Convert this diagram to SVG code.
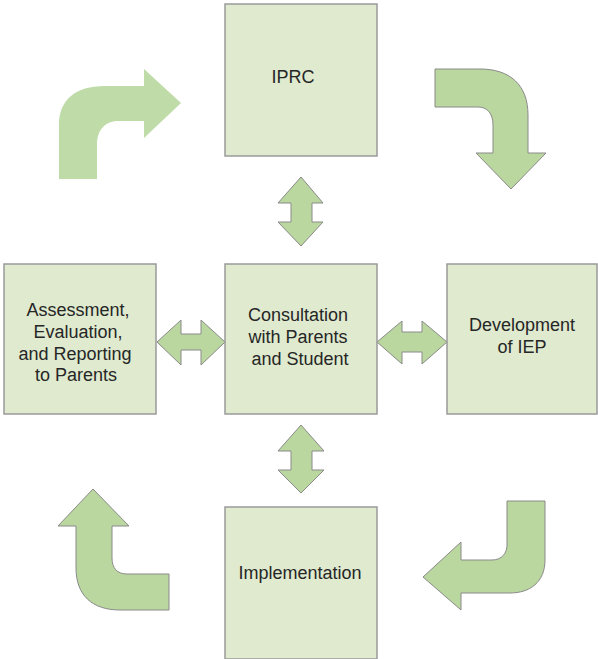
<svg xmlns="http://www.w3.org/2000/svg" width="598" height="659" viewBox="0 0 598 659">
<style>
.box{fill:#dfeacf;stroke:#9a9a9a;stroke-width:1.5}
.arr{fill:#bad79f;stroke:#8a8a8a;stroke-width:1}
.arr2{fill:#bfdca8;stroke:none}
text{font-family:"Liberation Sans",Arial,sans-serif;font-size:18px;fill:#262626;text-anchor:middle}
</style>
<rect width="598" height="659" fill="#ffffff"/>
<g id="connectors">
<path class="arr2" d="M59,179 L59,125 C59,100 75,86 105,86 L144,86 L144,69 L181,103 L144,138 L144,121 L118,121 C105,121 97,130 97,145 L97,179 Z"/>
<path class="arr" d="M435,69 L480,69 C510,69 528,85 528,115 L528,153 L546,153 L511,189 L476,153 L493,153 L493,125 C493,113 487,107 478,107 L435,107 Z"/>
<path class="arr" d="M93,489 L129,526 L112,526 L112,558 C112,568 117,574 127,574 L169,574 L169,610 L120,610 C92,610 76,595 76,568 L76,526 L58,526 Z"/>
<path class="arr" d="M507,501 L545,501 L545,560 C545,582 530,593 510,593 L461,593 L461,610 L423,577 L461,542 L461,560 L492,560 C502,560 507,553 507,545 Z"/>
<path class="arr" d="M301,177 L323,203 L312,203 L312,222 L323,222 L301,246 L278,222 L291,222 L291,203 L278,203 Z"/>
<path class="arr" d="M301,425 L324,451 L312,451 L312,470 L324,470 L301,493 L278,470 L291,470 L291,451 L278,451 Z"/>
<path class="arr" d="M157,342 L181,320 L181,334 L201,334 L201,320 L225,342 L201,365 L201,350 L181,350 L181,365 Z"/>
<path class="arr" d="M377,342 L402,321 L402,332 L422,332 L422,321 L447,342 L422,364 L422,352 L402,352 L402,364 Z"/>
</g>
<g id="iprc">
<rect class="box" x="225" y="4" width="152" height="152"/>
<text x="293" y="83">IPRC</text>
</g>
<g id="consultation">
<rect class="box" x="225" y="264" width="152" height="150"/>
<text x="298" y="321">Consultation</text>
<text x="298" y="343">with Parents</text>
<text x="300" y="365">and Student</text>
</g>
<g id="assessment">
<rect class="box" x="4" y="264" width="152" height="150"/>
<text x="78" y="316">Assessment,</text>
<text x="78" y="338">Evaluation,</text>
<text x="75" y="360">and Reporting</text>
<text x="76" y="381">to Parents</text>
</g>
<g id="development">
<rect class="box" x="447" y="264" width="150" height="150"/>
<text x="522" y="331">Development</text>
<text x="522" y="353">of IEP</text>
</g>
<g id="implementation">
<rect class="box" x="225" y="507" width="152" height="152"/>
<text x="300" y="579">Implementation</text>
</g>
</svg>
